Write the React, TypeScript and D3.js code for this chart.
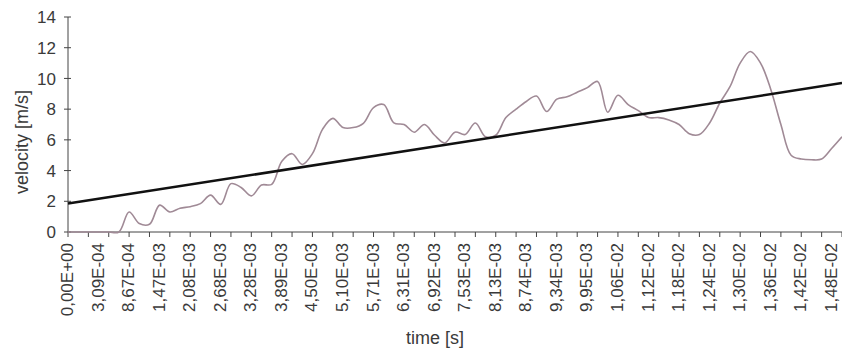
import React from "react";
import * as d3 from "d3";

const velocity: number[] = [
  0, 0, 0, 0, 0, 0, 1.3, 0.55, 0.5, 1.75,
  1.3, 1.55, 1.65, 1.85, 2.4, 1.8, 3.15, 2.9, 2.35, 3.06,
  3.1, 4.6, 5.1, 4.4, 5.1, 6.7, 7.4, 6.8, 6.8, 7.08,
  8.1, 8.3, 7.1, 7.0, 6.5, 7.0, 6.3, 5.8, 6.5, 6.35,
  7.1, 6.2, 6.3, 7.45, 8.0, 8.5, 8.85, 7.85, 8.65, 8.8,
  9.1, 9.4, 9.8, 7.8, 8.9, 8.3, 7.9, 7.45, 7.45, 7.3,
  7.0, 6.4, 6.35, 7.1, 8.4, 9.46, 11.0, 11.75, 11.0, 9.3,
  7.0, 5.0, 4.75, 4.7, 4.75, 5.45, 6.2,
];

const timeLabels: string[] = [
  "0,00E+00", "3,09E-04", "8,67E-04", "1,47E-03", "2,08E-03", "2,68E-03",
  "3,28E-03", "3,89E-03", "4,50E-03", "5,10E-03", "5,71E-03", "6,31E-03",
  "6,92E-03", "7,53E-03", "8,13E-03", "8,74E-03", "9,34E-03", "9,95E-03",
  "1,06E-02", "1,12E-02", "1,18E-02", "1,24E-02", "1,30E-02", "1,36E-02",
  "1,42E-02", "1,48E-02",
];

const yTicks: number[] = [0, 2, 4, 6, 8, 10, 12, 14];

// linear trend line values at first and last category
const trendStart = 1.85;
const trendEnd = 9.7;

const W = 842;
const H = 352;
const left = 68;
const right = 842;
const top = 17;
const bottom = 232;
const labelEvery = 3;
const tickEvery = 2;

export default function App() {
  const n = velocity.length;
  const idx = d3.range(n);
  const x = d3.scaleLinear().domain([0, n - 1]).range([left, right]);
  const y = d3.scaleLinear().domain([0, 14]).range([bottom, top]);

  const line = d3
    .line<number>()
    .x((_, i) => x(i))
    .y((d) => y(d))
    .curve(d3.curveCatmullRom.alpha(0.5));

  const font = "'Liberation Sans', Arial, sans-serif";
  const textColor = "#3a3a3a";
  const axisColor = "#444";

  return (
    <svg
      width={W}
      height={H}
      style={{ position: "absolute", left: 0, top: 0, background: "#fff" }}
    >
      {/* y axis */}
      <line x1={left} x2={left} y1={top} y2={bottom} stroke={axisColor} strokeWidth={1} />
      {yTicks.map((t) => (
        <g key={t}>
          <line x1={left - 4} x2={left + 3} y1={y(t)} y2={y(t)} stroke={axisColor} />
          <text
            x={left - 12}
            y={y(t)}
            dy="0.36em"
            textAnchor="end"
            fontFamily={font}
            fontSize={17}
            fill={textColor}
          >
            {t}
          </text>
        </g>
      ))}
      <text
        transform={`translate(28,142) rotate(-90)`}
        textAnchor="middle"
        fontFamily={font}
        fontSize={18}
        fill={textColor}
      >
        velocity [m/s]
      </text>

      {/* x axis */}
      <line x1={left} x2={right} y1={bottom} y2={bottom} stroke={axisColor} strokeWidth={1} />
      {idx
        .filter((i) => i % tickEvery === 0)
        .map((i) => (
          <line key={i} x1={x(i)} x2={x(i)} y1={bottom} y2={bottom + 5} stroke={axisColor} />
        ))}
      {timeLabels.map((lab, k) => {
        const xi = x(k * labelEvery);
        return (
          <text
            key={lab}
            transform={`translate(${xi + 5},${bottom + 11}) rotate(-90)`}
            textAnchor="end"
            fontFamily={font}
            fontSize={17}
            fill={textColor}
          >
            {lab}
          </text>
        );
      })}
      <text
        x={435}
        y={344}
        textAnchor="middle"
        fontFamily={font}
        fontSize={18}
        fill={textColor}
      >
        time [s]
      </text>

      {/* data line */}
      <path d={line(velocity) || ""} fill="none" stroke="#a08a96" strokeWidth={1.6} />

      {/* trend line */}
      <line
        x1={x(0)}
        y1={y(trendStart)}
        x2={x(n - 1)}
        y2={y(trendEnd)}
        stroke="#111"
        strokeWidth={2.5}
      />
    </svg>
  );
}
